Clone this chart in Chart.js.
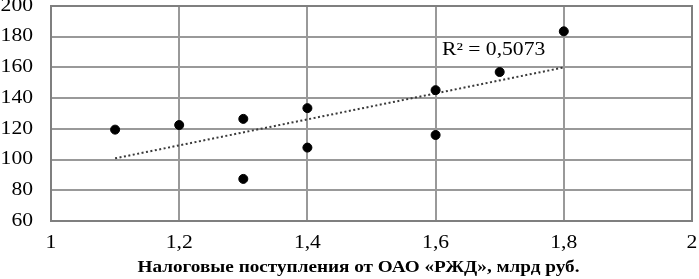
<!DOCTYPE html>
<html><head><meta charset="utf-8">
<script src="https://cdn.jsdelivr.net/npm/chart.js@4/dist/chart.umd.min.js"></script>
<style>html,body{margin:0;padding:0;background:#fff}#wrap{width:699px;height:279px}</style>
</head><body><div id="wrap"><canvas id="c"></canvas></div>
<script>
const taxRevenue = [1.1, 1.2, 1.3, 1.3, 1.4, 1.4, 1.6, 1.6, 1.7, 1.8];
const indicator = [119.5, 122.5, 126.5, 87.4, 133.5, 107.8, 145.2, 116, 157, 183.5];
const trendX = [1.1, 1.8];
const trendY = [100.8, 160];
const r2Label = "R² = 0,5073";
const xTitle = "Налоговые поступления от ОАО «РЖД», млрд руб.";

const points = taxRevenue.map((x, i) => ({x, y: indicator[i]}));
const trend = trendX.map((x, i) => ({x, y: trendY[i]}));

const SX = 1.2; // horizontal stretch of the reference lettering
function stretchedText(ctx, text, x, y, align) {
  ctx.save();
  ctx.translate(x, y);
  ctx.scale(SX, 1);
  ctx.textAlign = align;
  ctx.fillText(text, 0, 0);
  ctx.restore();
}

const textPlugin = {
  id: 'texts',
  afterDraw(chart) {
    const {ctx, scales, chartArea: a} = chart;
    ctx.save();
    ctx.strokeStyle = '#7f7f7f';
    ctx.lineWidth = 2;
    ctx.strokeRect(a.left, a.top, a.right - a.left, a.bottom - a.top);
    ctx.fillStyle = '#000';
    ctx.textBaseline = 'middle';
    ctx.font = '18px "Liberation Serif"';
    scales.y.ticks.forEach(t => {
      stretchedText(ctx, String(t.value), 33, scales.y.getPixelForValue(t.value), 'right');
    });
    scales.x.ticks.forEach(t => {
      const lbl = (Math.round(t.value * 10) / 10).toString().replace('.', ',');
      stretchedText(ctx, lbl, scales.x.getPixelForValue(t.value), a.bottom + 22, 'center');
    });
    stretchedText(ctx, r2Label, scales.x.getPixelForValue(1.61), scales.y.getPixelForValue(171), 'left');
    ctx.font = 'bold 16px "Liberation Serif"';
    stretchedText(ctx, xTitle, (a.left + a.right) / 2 - 13, a.bottom + 47, 'center');
    ctx.restore();
  }
};

new Chart(document.getElementById('c'), {
  type: 'scatter',
  data: {
    datasets: [
      {data: points, backgroundColor: '#000', borderColor: '#000', pointRadius: 4.5, pointHoverRadius: 4.5},
      {type: 'line', data: trend, borderColor: '#3a3a3a', borderWidth: 2, borderDash: [2, 2.5], pointRadius: 0, fill: false}
    ]
  },
  options: {
    responsive: true, maintainAspectRatio: false, animation: false,
    layout: {padding: {top: 6, right: 7, left: 0, bottom: 0}},
    plugins: {legend: {display: false}, tooltip: {enabled: false}},
    scales: {
      x: {
        type: 'linear', min: 1, max: 2,
        afterFit(s) { s.height = 58; s.paddingLeft = 0; s.paddingRight = 0; },
        ticks: {stepSize: 0.2, display: false},
        grid: {color: '#999999', lineWidth: 2, drawTicks: false},
        border: {display: false}
      },
      y: {
        min: 60, max: 200,
        afterFit(s) { s.width = 51; s.paddingTop = 0; s.paddingBottom = 0; },
        ticks: {stepSize: 20, display: false},
        grid: {color: '#999999', lineWidth: 2, drawTicks: false},
        border: {display: false}
      }
    }
  },
  plugins: [textPlugin]
});
</script></body></html>
